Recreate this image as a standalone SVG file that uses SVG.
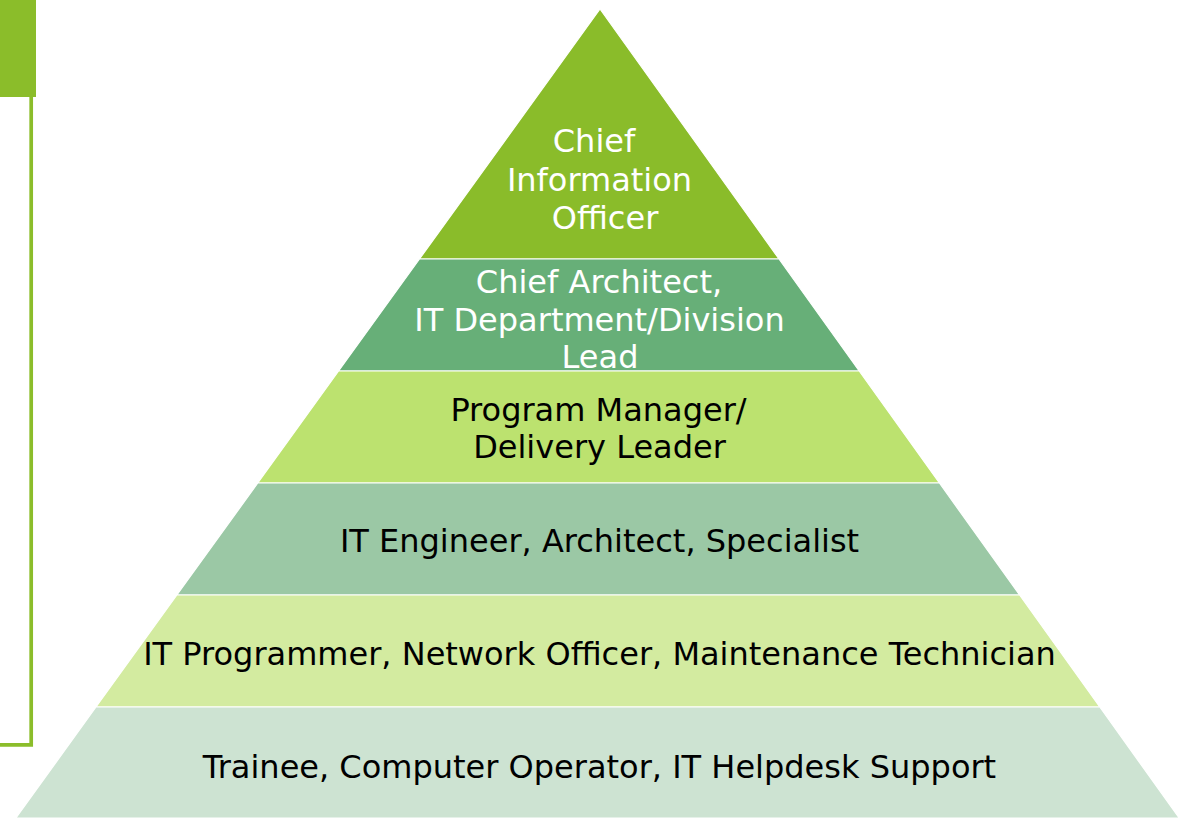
<svg xmlns="http://www.w3.org/2000/svg" width="1179" height="818" viewBox="0 0 1179 818">
  <style>
    .band { stroke: #ffffff; stroke-width: 1.2; }
    .lbl { font-family: "DejaVu Sans", Verdana, sans-serif; font-size: 32px; text-anchor: middle; }
    .w { fill: #ffffff; }
    .k { fill: #000000; }
    .frame { fill: none; stroke: #8bbd2a; stroke-width: 3.7; }
  </style>
  <g id="side-panel">
    <rect x="0" y="0" width="36" height="97" fill="#8bbd2a"/>
    <polyline class="frame" points="31.2,97 31.2,744.8 0,744.8"/>
  </g>
  <g id="level-1">
    <polygon class="band" points="600,9 779,259 419.5,259" fill="#8abc2a"/>
    <text class="lbl w" x="594" y="152">Chief</text>
    <text class="lbl w" x="599.5" y="191">Information</text>
    <text class="lbl w" x="605" y="229">Officer</text>
  </g>
  <g id="level-2">
    <polygon class="band" points="419.5,259 779,259 859.2,371 338.6,371" fill="#67af78"/>
    <text class="lbl w" x="599" y="293">Chief Architect,</text>
    <text class="lbl w" x="599.5" y="331">IT Department/Division</text>
    <text class="lbl w" x="600" y="368">Lead</text>
  </g>
  <g id="level-3">
    <polygon class="band" points="338.6,371 859.2,371 939.4,483 257.8,483" fill="#bce26f"/>
    <text class="lbl k" x="598.5" y="420.5">Program Manager/</text>
    <text class="lbl k" x="599.5" y="457.5">Delivery Leader</text>
  </g>
  <g id="level-4">
    <polygon class="band" points="257.8,483 939.4,483 1019.6,595 176.9,595" fill="#9bc8a5"/>
    <text class="lbl k" x="599.5" y="552">IT Engineer, Architect, Specialist</text>
  </g>
  <g id="level-5">
    <polygon class="band" points="176.9,595 1019.6,595 1099.8,707 96,707" fill="#d3eba0"/>
    <text class="lbl k" x="599.5" y="665">IT Programmer, Network Officer, Maintenance Technician</text>
  </g>
  <g id="level-6">
    <polygon class="band" points="96,707 1099.8,707 1179.2,818 15.9,818" fill="#cde3d2"/>
    <text class="lbl k" x="599.5" y="778">Trainee, Computer Operator, IT Helpdesk Support</text>
  </g>
  <g id="connectors"/>
</svg>
